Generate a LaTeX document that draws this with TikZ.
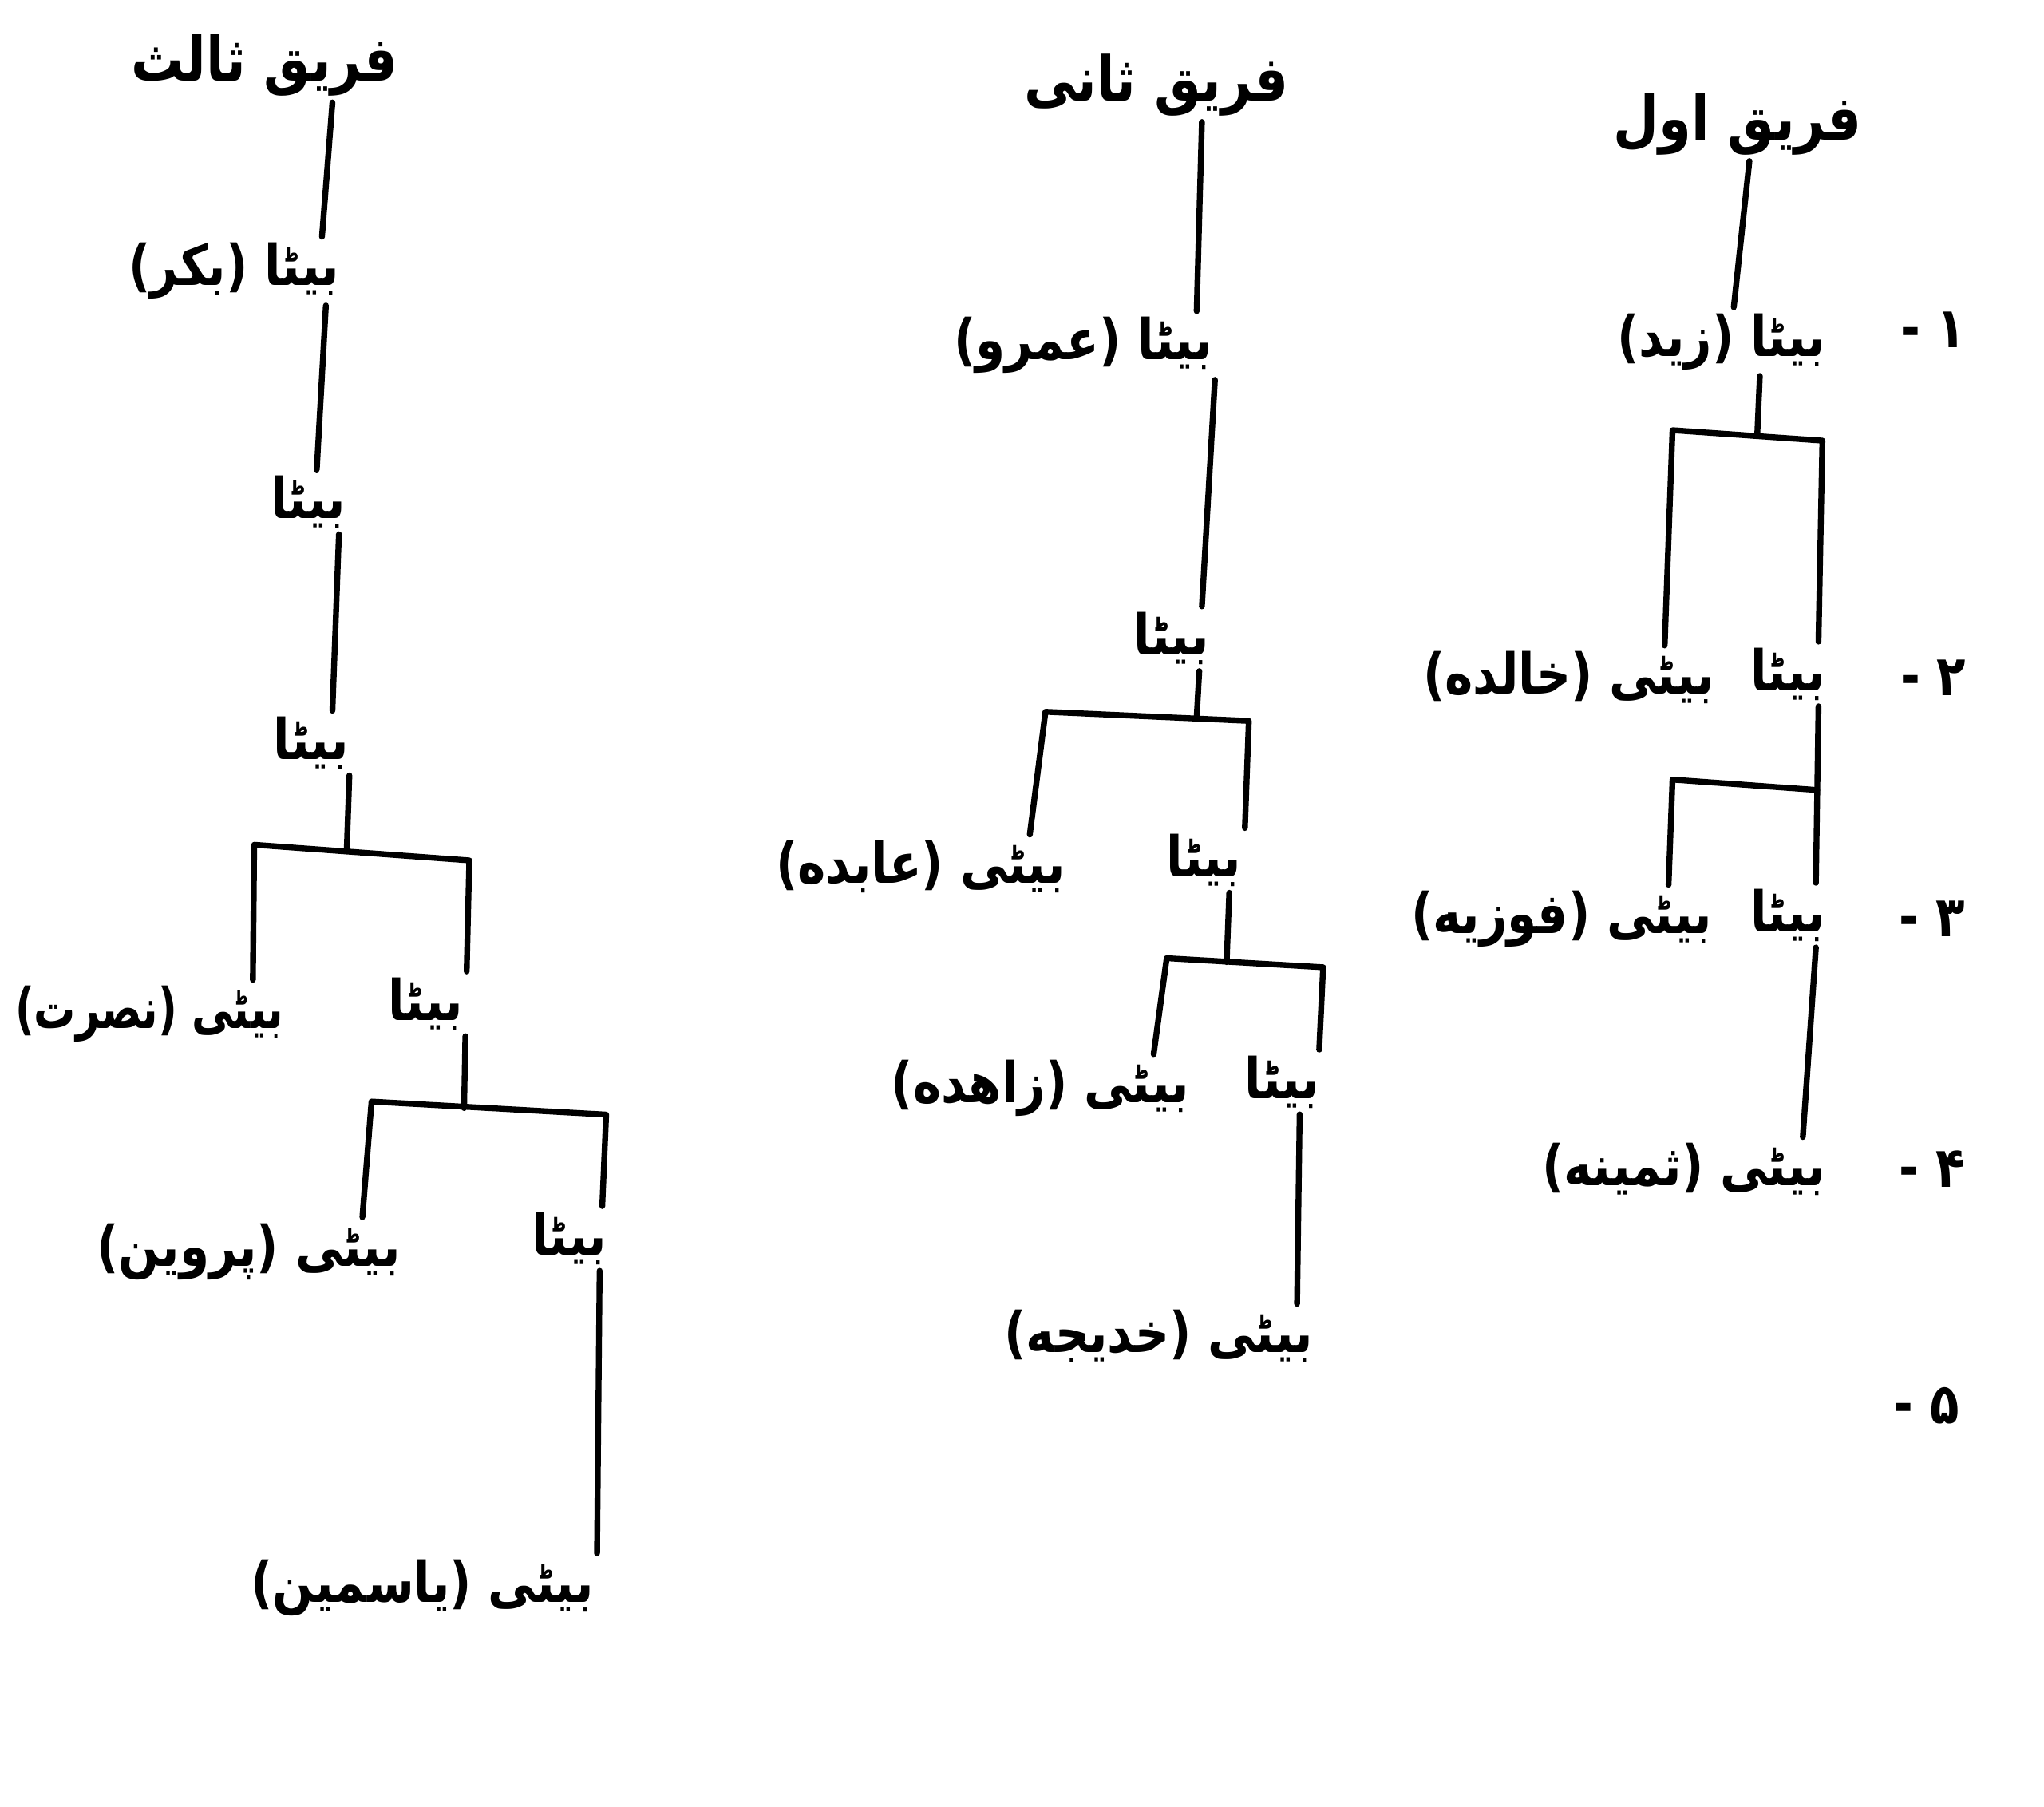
\documentclass[tikz,border=0pt]{standalone}
\usepackage{fontspec}
\TeXXeTstate=1
\newfontfamily\urdufont[Script=Arabic]{DejaVu Sans}
% right-to-left text, slightly narrowed
\newcommand{\rtl}[1]{\scalebox{0.85}[1]{\beginR#1\endR}}
% the same, narrowed a little more for a label at the left margin
\newcommand{\rtlnarrow}[1]{\scalebox{0.74}[1]{\beginR#1\endR}}
\begin{document}
\begin{tikzpicture}[x=0.016333cm, y=-0.016333cm,
  word/.style={font=\urdufont\bfseries\fontsize{20}{24}\selectfont, inner sep=2pt, anchor=east},
  head/.style={font=\urdufont\bfseries\fontsize{22}{26}\selectfont, inner sep=2pt},
  num/.style={font=\urdufont\bfseries\fontsize{20}{24}\selectfont, inner sep=2pt},
  link/.style={line width=2.1pt, line cap=round, line join=round}]

\fill[white] (0,0) rectangle (1568,1386);
\useasboundingbox (0,0) rectangle (1568,1386);

% ---------- first party (right column) ----------
\node[head] (h1) at (1333,95) {\rtl{فریق اول}};
\node[num]  (r1) at (1483,253) {\rtl{۱ -}};
\node[word] (a1) at (1405,262) {\rtl{بیٹا (زید)}};
\node[num]  (r2) at (1483,520) {\rtl{۲ -}};
\node[word] (a2) at (1405,517) {\rtl{بیٹا}};
\node[word] (d2) at (1320,520) {\rtl{بیٹی (خالده)}};
\node[num]  (r3) at (1482,705) {\rtl{۳ -}};
\node[word] (a3) at (1405,702) {\rtl{بیٹا}};
\node[word] (d3) at (1318,705) {\rtl{بیٹی (فوزیه)}};
\node[num]  (r4) at (1482,897) {\rtl{۴ -}};
\node[word] (d4) at (1405,897) {\rtl{بیٹی (ثمینه)}};
\node[num]  (r5) at (1478,1078) {\rtl{۵ -}};

\coordinate (j1) at (1348,334);
\coordinate (b1l) at (1283,330);
\coordinate (b1r) at (1398,338);
\coordinate (j2) at (1394,606);
\coordinate (b2l) at (1283,598);

\draw[link] ([shift={(9,0)}]h1.south) -- ([shift={(-75,0)}]a1.north east);
\draw[link] ([shift={(-55,0)}]a1.south east) -- (j1);
\draw[link] ([shift={(-43,0)}]d2.north east) -- (b1l) -- (b1r) -- ([shift={(-10,0)}]a2.north east);
\draw[link] ([shift={(-10,0)}]a2.south east) -- ([shift={(-12,0)}]a3.north east);
\draw[link] (j2) -- (b2l) -- ([shift={(-38,0)}]d3.north east);
\draw[link] ([shift={(-12,0)}]a3.south east) -- ([shift={(-22,0)}]d4.north east);

% ---------- second party (middle column) ----------
\node[head] (h2) at (887,65) {\rtl{فریق ثانی}};
\node[word] (e1) at (935,265) {\rtl{بیٹا (عمرو)}};
\node[word] (e2) at (932,490) {\rtl{بیٹا}};
\node[word] (f1) at (822,665) {\rtl{بیٹی (عابده)}};
\node[word] (e3) at (957,660) {\rtl{بیٹا}};
\node[word] (f2) at (917,835) {\rtl{بیٹی (زاهده)}};
\node[word] (e4) at (1017,830) {\rtl{بیٹا}};
\node[word] (f3) at (1012,1025) {\rtl{بیٹی (خدیجه)}};

\coordinate (j3) at (918,550);
\coordinate (b3l) at (802,546);
\coordinate (b3r) at (958,553);
\coordinate (j4) at (941,738);
\coordinate (b4l) at (895,735);
\coordinate (b4r) at (1015,742);

\draw[link] ([shift={(35,0)}]h2.south) -- ([shift={(-17,0)}]e1.north east);
\draw[link] ([shift={(-3,0)}]e1.south east) -- ([shift={(-10,0)}]e2.north east);
\draw[link] ([shift={(-12,0)}]e2.south east) -- (j3);
\draw[link] ([shift={(-32,0)}]f1.north east) -- (b3l) -- (b3r) -- ([shift={(-2,0)}]e3.north east);
\draw[link] ([shift={(-14,0)}]e3.south east) -- (j4);
\draw[link] ([shift={(-32,0)}]f2.north east) -- (b4l) -- (b4r) -- ([shift={(-5,0)}]e4.north east);
\draw[link] ([shift={(-20,0)}]e4.south east) -- ([shift={(-17,0)}]f3.north east);

% ---------- third party (left column) ----------
\node[head] (h3) at (203,50) {\rtl{فریق ثالث}};
\node[word] (g1) at (265,208) {\rtl{بیٹا (بکر)}};
\node[word] (g2) at (270,385) {\rtl{بیٹا}};
\node[word] (g3) at (272,570) {\rtl{بیٹا}};
\node[word] (k1) at (222,778) {\rtlnarrow{بیٹی (نصرت)}};
\node[word] (g4) at (360,770) {\rtl{بیٹا}};
\node[word] (k2) at (312,960) {\rtl{بیٹی (پروین)}};
\node[word] (g5) at (470,950) {\rtl{بیٹا}};
\node[word] (k3) at (460,1218) {\rtl{بیٹی (یاسمین)}};

\coordinate (j5) at (266,652);
\coordinate (b5l) at (195,648);
\coordinate (b5r) at (360,660);
\coordinate (j6) at (356,850);
\coordinate (b6l) at (285,845);
\coordinate (b6r) at (465,855);

\draw[link] ([shift={(52,0)}]h3.south) -- ([shift={(-18,0)}]g1.north east);
\draw[link] ([shift={(-15,0)}]g1.south east) -- ([shift={(-27,0)}]g2.north east);
\draw[link] ([shift={(-10,0)}]g2.south east) -- ([shift={(-17,0)}]g3.north east);
\draw[link] ([shift={(-4,0)}]g3.south east) -- (j5);
\draw[link] ([shift={(-28,0)}]k1.north east) -- (b5l) -- (b5r) -- ([shift={(-2,0)}]g4.north east);
\draw[link] ([shift={(-3,0)}]g4.south east) -- (j6);
\draw[link] ([shift={(-34,0)}]k2.north east) -- (b6l) -- (b6r) -- ([shift={(-8,0)}]g5.north east);
\draw[link] ([shift={(-10,0)}]g5.south east) -- ([shift={(-2,0)}]k3.north east);
\end{tikzpicture}
\end{document}
